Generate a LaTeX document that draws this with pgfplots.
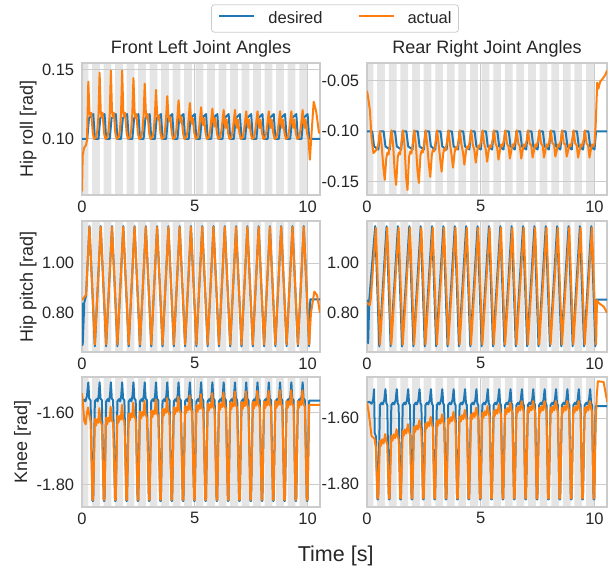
\documentclass[border=0pt]{standalone}
\usepackage{fontspec}
\setmainfont{Liberation Sans}
\usepackage{pgfplots}
\pgfplotsset{compat=1.18}
\usepackage{pgfplotstable}

\definecolor{tabblue}{HTML}{1F77B4}
\definecolor{taborange}{HTML}{FF7F0E}
\definecolor{stripe}{HTML}{E5E5E5}
\definecolor{gridc}{HTML}{CCCCCC}
\definecolor{txt}{HTML}{262626}

\newcommand{\tickfont}{\fontsize{16.5}{19}\selectfont}
\newcommand{\labfont}{\fontsize{18}{21}\selectfont}

% gait phase bands (gray = stance), t in s
\pgfplotstableread{
t s
0 0
0 1
0.28 1
0.28 0
0.45 0
0.45 1
0.79 1
0.79 0
0.96 0
0.96 1
1.30 1
1.30 0
1.47 0
1.47 1
1.81 1
1.81 0
1.98 0
1.98 1
2.32 1
2.32 0
2.49 0
2.49 1
2.83 1
2.83 0
3.00 0
3.00 1
3.34 1
3.34 0
3.51 0
3.51 1
3.85 1
3.85 0
4.02 0
4.02 1
4.36 1
4.36 0
4.53 0
4.53 1
4.87 1
4.87 0
5.04 0
5.04 1
5.38 1
5.38 0
5.55 0
5.55 1
5.89 1
5.89 0
6.06 0
6.06 1
6.40 1
6.40 0
6.57 0
6.57 1
6.91 1
6.91 0
7.08 0
7.08 1
7.42 1
7.42 0
7.59 0
7.59 1
7.93 1
7.93 0
8.10 0
8.10 1
8.44 1
8.44 0
8.61 0
8.61 1
8.95 1
8.95 0
9.12 0
9.12 1
9.46 1
9.46 0
9.63 0
9.63 1
9.97 1
9.97 0
}\stripetab

% #1 = ymin, #2 = ymax of the axis
\newcommand{\stripes}[2]{\addplot[fill=stripe, draw=none, forget plot, on layer=axis background]
  table[x=t, y expr={#1+\thisrow{s}*((#2)-(#1))}] {\stripetab};}

\pgfplotsset{
  jpax/.style={
    scale only axis, width=238pt, height=132pt,
    xmin=0, xmax=10.55, xtick={0,5,10},
    grid=major, major grid style={draw=gridc, line width=1pt},
    axis line style={draw=gridc, line width=1.2pt},
    major tick length=0pt, tick style={draw=none},
    ticklabel style={font=\tickfont, text=txt},
    /pgf/number format/assume math mode=true,
    yticklabel style={/pgf/number format/fixed, /pgf/number format/fixed zerofill, /pgf/number format/precision=2, xshift=-4.3pt},
    xticklabel style={yshift=-2pt},
    every axis y label/.style={at={(axis description cs:-0.2256,0.5)}, rotate=90, anchor=center, font=\labfont, text=txt},
    title style={font=\labfont, text=txt, at={(0.5,1)}, anchor=base, yshift=3.7pt, inner sep=0pt},
    clip mode=individual, set layers,
  },
  des/.style={tabblue, line width=2pt, line join=round},
  act/.style={taborange, line width=2pt, line join=round},
}

\begin{document}
\begin{tikzpicture}

% ---------- Front left, hip roll
\begin{axis}[jpax, at={(82pt,375pt)}, anchor=south west, height=132pt,
  ymin=0.0594, ymax=0.155, ytick={0.10,0.15},
  title={Front Left Joint Angles}, ylabel={Hip roll [rad]},
  legend columns=2,
  legend image code/.code={\draw[#1] (0pt,0.3em) -- (35pt,0.3em);},
  legend style={at={(1.063,1.337)}, anchor=center, draw=gridc, line width=0.8pt, rounded corners=3pt,
    font=\tickfont, text=txt, inner xsep=7pt, inner ysep=7pt, nodes={inner sep=0pt},
    /tikz/every odd column/.append style={column sep=13pt},
    /tikz/every even column/.append style={column sep=35pt}},
]
\stripes{0.0594}{0.155}
\addplot[des] coordinates {(0,0.1)(0.23,0.1)(0.31,0.115)(0.5,0.118)(0.57,0.1)
(0.73,0.1)(0.81,0.115)(1,0.118)(1.07,0.1)(1.23,0.1)(1.31,0.115)(1.5,0.118)(1.57,0.1)
(1.73,0.1)(1.81,0.115)(2,0.118)(2.07,0.1)(2.23,0.1)(2.31,0.115)(2.5,0.118)(2.57,0.1)
(2.73,0.1)(2.81,0.115)(3,0.118)(3.07,0.1)(3.23,0.1)(3.31,0.115)(3.5,0.118)(3.57,0.1)
(3.73,0.1)(3.81,0.115)(4,0.118)(4.07,0.1)(4.23,0.1)(4.31,0.115)(4.5,0.118)(4.57,0.1)
(4.73,0.1)(4.81,0.115)(5,0.118)(5.07,0.1)(5.23,0.1)(5.31,0.115)(5.5,0.118)(5.57,0.1)
(5.73,0.1)(5.81,0.115)(6,0.118)(6.07,0.1)(6.23,0.1)(6.31,0.115)(6.5,0.118)(6.57,0.1)
(6.73,0.1)(6.81,0.115)(7,0.118)(7.07,0.1)(7.23,0.1)(7.31,0.115)(7.5,0.118)(7.57,0.1)
(7.73,0.1)(7.81,0.115)(8,0.118)(8.07,0.1)(8.23,0.1)(8.31,0.115)(8.5,0.118)(8.57,0.1)
(8.73,0.1)(8.81,0.115)(9,0.118)(9.07,0.1)(9.23,0.1)(9.31,0.115)(9.5,0.118)(9.57,0.1)
(9.73,0.1)(9.81,0.115)(10,0.118)(10.07,0.1)(10.55,0.1)};
\addlegendentry{desired}
\addplot[act] coordinates {(0,0.062)(0.03,0.088)(0.09,0.0935)(0.18,0.0957)(0.22,0.099)(0.25,0.12)
(0.28,0.1415)(0.33,0.119)(0.37,0.117)(0.41,0.119)(0.48,0.104)(0.54,0.1)(0.62,0.101)(0.68,0.106)(0.73,0.117)
(0.78,0.148)(0.83,0.12)(0.87,0.116)(0.91,0.119)(0.98,0.104)(1.04,0.1)(1.12,0.101)(1.18,0.106)(1.23,0.118)
(1.28,0.1495)(1.33,0.12)(1.37,0.116)(1.41,0.119)(1.48,0.104)(1.54,0.1)(1.62,0.101)(1.68,0.106)(1.73,0.118)
(1.78,0.1495)(1.83,0.12)(1.87,0.116)(1.91,0.119)(1.98,0.104)(2.04,0.1)(2.12,0.101)(2.18,0.106)(2.23,0.118)
(2.28,0.144)(2.33,0.12)(2.37,0.115)(2.41,0.118)(2.48,0.104)(2.54,0.1)(2.62,0.101)(2.68,0.106)(2.73,0.117)
(2.78,0.14)(2.83,0.119)(2.87,0.115)(2.91,0.118)(2.98,0.104)(3.04,0.1)(3.12,0.101)(3.18,0.106)(3.23,0.117)
(3.28,0.1355)(3.33,0.118)(3.37,0.114)(3.41,0.117)(3.48,0.104)(3.54,0.1)(3.62,0.101)(3.68,0.106)(3.73,0.116)
(3.78,0.131)(3.83,0.117)(3.87,0.113)(3.91,0.116)(3.98,0.104)(4.04,0.1)(4.12,0.101)(4.18,0.106)(4.23,0.116)
(4.28,0.128)(4.33,0.116)(4.37,0.112)(4.41,0.116)(4.48,0.104)(4.54,0.1)(4.62,0.101)(4.68,0.106)(4.73,0.115)
(4.78,0.126)(4.83,0.115)(4.87,0.111)(4.91,0.115)(4.98,0.104)(5.04,0.1)(5.12,0.101)(5.18,0.106)(5.23,0.114)
(5.28,0.123)(5.33,0.113)(5.37,0.11)(5.41,0.115)(5.48,0.104)(5.54,0.1)(5.62,0.101)(5.68,0.106)(5.73,0.114)
(5.78,0.122)(5.83,0.112)(5.87,0.109)(5.91,0.115)(5.98,0.104)(6.04,0.1)(6.12,0.101)(6.18,0.106)(6.23,0.113)
(6.28,0.121)(6.33,0.111)(6.37,0.108)(6.41,0.114)(6.48,0.104)(6.54,0.1)(6.62,0.101)(6.68,0.106)(6.73,0.113)
(6.78,0.121)(6.83,0.111)(6.87,0.108)(6.91,0.114)(6.98,0.104)(7.04,0.1)(7.12,0.101)(7.18,0.106)(7.23,0.113)
(7.28,0.12)(7.33,0.111)(7.37,0.108)(7.41,0.114)(7.48,0.104)(7.54,0.1)(7.62,0.101)(7.68,0.106)(7.73,0.113)
(7.78,0.12)(7.83,0.111)(7.87,0.108)(7.91,0.114)(7.98,0.104)(8.04,0.1)(8.12,0.101)(8.18,0.106)(8.23,0.113)
(8.28,0.12)(8.33,0.111)(8.37,0.108)(8.41,0.114)(8.48,0.104)(8.54,0.1)(8.62,0.101)(8.68,0.106)(8.73,0.113)
(8.78,0.12)(8.83,0.111)(8.87,0.108)(8.91,0.114)(8.98,0.104)(9.04,0.1)(9.12,0.101)(9.18,0.106)(9.23,0.113)
(9.28,0.12)(9.33,0.111)(9.37,0.108)(9.41,0.114)(9.48,0.104)(9.54,0.1)(9.62,0.101)(9.68,0.106)(9.73,0.113)
(9.78,0.121)(9.83,0.111)(9.87,0.108)(9.91,0.114)(9.98,0.104)(10.04,0.1)
(10.1,0.085)(10.18,0.105)(10.27,0.127)(10.38,0.12)(10.5,0.105)(10.55,0.104)};
\addlegendentry{actual}
\end{axis}

% ---------- Rear right, hip roll
\begin{axis}[jpax, at={(367pt,375pt)}, anchor=south west, width=240pt, height=132pt,
  ymin=-0.163, ymax=-0.0325, ytick={-0.15,-0.10,-0.05},
  title={Rear Right Joint Angles}]
\stripes{-0.163}{-0.0325}
\addplot[des] coordinates {(0,-0.1)(0.23,-0.1)(0.31,-0.115)(0.5,-0.118)(0.57,-0.1)
(0.73,-0.1)(0.81,-0.115)(1,-0.118)(1.07,-0.1)(1.23,-0.1)(1.31,-0.115)(1.5,-0.118)(1.57,-0.1)
(1.73,-0.1)(1.81,-0.115)(2,-0.118)(2.07,-0.1)(2.23,-0.1)(2.31,-0.115)(2.5,-0.118)(2.57,-0.1)
(2.73,-0.1)(2.81,-0.115)(3,-0.118)(3.07,-0.1)(3.23,-0.1)(3.31,-0.115)(3.5,-0.118)(3.57,-0.1)
(3.73,-0.1)(3.81,-0.115)(4,-0.118)(4.07,-0.1)(4.23,-0.1)(4.31,-0.115)(4.5,-0.118)(4.57,-0.1)
(4.73,-0.1)(4.81,-0.115)(5,-0.118)(5.07,-0.1)(5.23,-0.1)(5.31,-0.115)(5.5,-0.118)(5.57,-0.1)
(5.73,-0.1)(5.81,-0.115)(6,-0.118)(6.07,-0.1)(6.23,-0.1)(6.31,-0.115)(6.5,-0.118)(6.57,-0.1)
(6.73,-0.1)(6.81,-0.115)(7,-0.118)(7.07,-0.1)(7.23,-0.1)(7.31,-0.115)(7.5,-0.118)(7.57,-0.1)
(7.73,-0.1)(7.81,-0.115)(8,-0.118)(8.07,-0.1)(8.23,-0.1)(8.31,-0.115)(8.5,-0.118)(8.57,-0.1)
(8.73,-0.1)(8.81,-0.115)(9,-0.118)(9.07,-0.1)(9.23,-0.1)(9.31,-0.115)(9.5,-0.118)(9.57,-0.1)
(9.73,-0.1)(9.81,-0.115)(10,-0.118)(10.07,-0.1)(10.55,-0.1)};
\addplot[act] coordinates {(0,-0.06)(0.06,-0.068)(0.13,-0.08)(0.2,-0.107)(0.28,-0.1215)(0.35,-0.12)(0.42,-0.118)(0.5,-0.113)(0.57,-0.1)(0.64,-0.113)(0.72,-0.136)
(0.78,-0.148)(0.85,-0.126)(0.9,-0.121)(0.95,-0.123)(1.02,-0.111)(1.08,-0.099)(1.15,-0.114)(1.22,-0.141)
(1.28,-0.153)(1.35,-0.126)(1.4,-0.121)(1.45,-0.123)(1.52,-0.111)(1.58,-0.099)(1.65,-0.114)(1.72,-0.146)
(1.78,-0.158)(1.85,-0.125)(1.9,-0.12)(1.95,-0.122)(2.02,-0.111)(2.08,-0.099)(2.15,-0.114)(2.22,-0.139)
(2.28,-0.151)(2.35,-0.124)(2.4,-0.119)(2.45,-0.121)(2.52,-0.111)(2.58,-0.099)(2.65,-0.114)(2.72,-0.133)
(2.78,-0.145)(2.85,-0.123)(2.9,-0.118)(2.95,-0.12)(3.02,-0.11)(3.08,-0.099)(3.15,-0.113)(3.22,-0.128)
(3.28,-0.14)(3.35,-0.122)(3.4,-0.117)(3.45,-0.119)(3.52,-0.11)(3.58,-0.099)(3.65,-0.113)(3.72,-0.124)
(3.78,-0.136)(3.85,-0.121)(3.9,-0.116)(3.95,-0.118)(4.02,-0.11)(4.08,-0.099)(4.15,-0.113)(4.22,-0.121)
(4.28,-0.133)(4.35,-0.12)(4.4,-0.115)(4.45,-0.117)(4.52,-0.11)(4.58,-0.099)(4.65,-0.113)(4.72,-0.119)
(4.78,-0.131)(4.85,-0.119)(4.9,-0.114)(4.95,-0.116)(5.02,-0.109)(5.08,-0.099)(5.15,-0.112)(5.22,-0.118)
(5.28,-0.13)(5.35,-0.119)(5.4,-0.114)(5.45,-0.116)(5.52,-0.109)(5.58,-0.099)(5.65,-0.112)(5.72,-0.116)
(5.78,-0.128)(5.85,-0.118)(5.9,-0.113)(5.95,-0.115)(6.02,-0.109)(6.08,-0.099)(6.15,-0.112)(6.22,-0.115)
(6.28,-0.127)(6.35,-0.118)(6.4,-0.113)(6.45,-0.115)(6.52,-0.109)(6.58,-0.099)(6.65,-0.112)(6.72,-0.115)
(6.78,-0.127)(6.85,-0.118)(6.9,-0.113)(6.95,-0.115)(7.02,-0.109)(7.08,-0.099)(7.15,-0.112)(7.22,-0.114)
(7.28,-0.126)(7.35,-0.118)(7.4,-0.113)(7.45,-0.115)(7.52,-0.109)(7.58,-0.099)(7.65,-0.112)(7.72,-0.114)
(7.78,-0.126)(7.85,-0.118)(7.9,-0.113)(7.95,-0.115)(8.02,-0.109)(8.08,-0.099)(8.15,-0.112)(8.22,-0.113)
(8.28,-0.125)(8.35,-0.118)(8.4,-0.113)(8.45,-0.115)(8.52,-0.109)(8.58,-0.099)(8.65,-0.112)(8.72,-0.113)
(8.78,-0.125)(8.85,-0.118)(8.9,-0.113)(8.95,-0.115)(9.02,-0.109)(9.08,-0.099)(9.15,-0.112)(9.22,-0.114)
(9.28,-0.126)(9.35,-0.118)(9.4,-0.113)(9.45,-0.115)(9.52,-0.109)(9.58,-0.099)(9.65,-0.112)(9.72,-0.114)
(9.78,-0.126)(9.85,-0.117)(9.9,-0.113)(9.95,-0.115)(10,-0.112)(10.05,-0.095)(10.12,-0.052)(10.17,-0.058)(10.25,-0.051)(10.36,-0.048)(10.48,-0.044)(10.55,-0.04)};
\end{axis}

% ---------- Front left, hip pitch
\begin{axis}[jpax, at={(82pt,218pt)}, anchor=south west, height=131pt,
  ymin=0.642, ymax=1.169, ytick={0.8,1.0}, ylabel={Hip pitch [rad]}]
\stripes{0.642}{1.169}
\addplot[des] coordinates {(0,0.84)(0.03,0.67)(0.1,0.84)(0.18,0.87)
(0.33,1.148)(0.57,0.665)(0.83,1.148)(1.07,0.665)(1.33,1.148)(1.57,0.665)(1.83,1.148)(2.07,0.665)
(2.33,1.148)(2.57,0.665)(2.83,1.148)(3.07,0.665)(3.33,1.148)(3.57,0.665)(3.83,1.148)(4.07,0.665)
(4.33,1.148)(4.57,0.665)(4.83,1.148)(5.07,0.665)(5.33,1.148)(5.57,0.665)(5.83,1.148)(6.07,0.665)
(6.33,1.148)(6.57,0.665)(6.83,1.148)(7.07,0.665)(7.33,1.148)(7.57,0.665)(7.83,1.148)(8.07,0.665)
(8.33,1.148)(8.57,0.665)(8.83,1.148)(9.07,0.665)(9.33,1.148)(9.57,0.665)(9.83,1.148)(10.07,0.665)
(10.12,0.854)(10.55,0.854)};
\addplot[act] coordinates {(0,0.851)(0.18,0.872)
(0.33,1.145)(0.57,0.672)(0.83,1.145)(1.07,0.672)(1.33,1.145)(1.57,0.672)(1.83,1.145)(2.07,0.672)
(2.33,1.145)(2.57,0.672)(2.83,1.145)(3.07,0.672)(3.33,1.145)(3.57,0.672)(3.83,1.145)(4.07,0.672)
(4.33,1.145)(4.57,0.672)(4.83,1.145)(5.07,0.672)(5.33,1.145)(5.57,0.672)(5.83,1.145)(6.07,0.672)
(6.33,1.145)(6.57,0.672)(6.83,1.145)(7.07,0.672)(7.33,1.145)(7.57,0.672)(7.83,1.145)(8.07,0.672)
(8.33,1.145)(8.57,0.672)(8.83,1.145)(9.07,0.672)(9.33,1.145)(9.57,0.672)(9.83,1.145)(10.07,0.672)
(10.15,0.8)(10.3,0.885)(10.42,0.87)(10.55,0.8)};
\end{axis}

% ---------- Rear right, hip pitch
\begin{axis}[jpax, at={(367pt,218pt)}, anchor=south west, width=240pt, height=131pt,
  ymin=0.642, ymax=1.169, ytick={0.8,1.0}]
\stripes{0.642}{1.169}
\addplot[des] coordinates {(0,0.853)(0.05,0.677)(0.1,0.853)
(0.36,1.148)(0.54,0.665)(0.86,1.148)(1.04,0.665)(1.36,1.148)(1.54,0.665)(1.86,1.148)(2.04,0.665)
(2.36,1.148)(2.54,0.665)(2.86,1.148)(3.04,0.665)(3.36,1.148)(3.54,0.665)(3.86,1.148)(4.04,0.665)
(4.36,1.148)(4.54,0.665)(4.86,1.148)(5.04,0.665)(5.36,1.148)(5.54,0.665)(5.86,1.148)(6.04,0.665)
(6.36,1.148)(6.54,0.665)(6.86,1.148)(7.04,0.665)(7.36,1.148)(7.54,0.665)(7.86,1.148)(8.04,0.665)
(8.36,1.148)(8.54,0.665)(8.86,1.148)(9.04,0.665)(9.36,1.148)(9.54,0.665)(9.86,1.148)(10.04,0.665)
(10.07,0.853)(10.55,0.853)};
\addplot[act] coordinates {(0,0.84)(0.12,0.83)(0.16,0.85)
(0.39,1.142)(0.57,0.672)(0.89,1.142)(1.07,0.672)(1.39,1.142)(1.57,0.672)(1.89,1.142)(2.07,0.672)
(2.39,1.142)(2.57,0.672)(2.89,1.142)(3.07,0.672)(3.39,1.142)(3.57,0.672)(3.89,1.142)(4.07,0.672)
(4.39,1.142)(4.57,0.672)(4.89,1.142)(5.07,0.672)(5.39,1.142)(5.57,0.672)(5.89,1.142)(6.07,0.672)
(6.39,1.142)(6.57,0.672)(6.89,1.142)(7.07,0.672)(7.39,1.142)(7.57,0.672)(7.89,1.142)(8.07,0.672)
(8.39,1.142)(8.57,0.672)(8.89,1.142)(9.07,0.672)(9.39,1.142)(9.57,0.672)(9.89,1.142)(10.07,0.672)
(10.11,0.85)(10.2,0.838)(10.4,0.825)(10.55,0.8)};
\end{axis}

% ---------- Front left, knee
\begin{axis}[jpax, at={(82pt,63pt)}, anchor=south west, height=130pt,
  ymin=-1.863, ymax=-1.50, ytick={-1.8,-1.6}, ylabel={Knee [rad]},
  every axis y label/.append style={at={(axis description cs:-0.25,0.5)}}]
\stripes{-1.863}{-1.50}
\addplot[des] coordinates {(0,-1.57)(0.08,-1.563)(0.15,-1.568)(0.22,-1.553)
(0.28,-1.515)(0.32,-1.56)(0.38,-1.565)(0.465,-1.846)(0.495,-1.846)(0.57,-1.568)(0.64,-1.562)(0.69,-1.568)(0.74,-1.552)
(0.78,-1.515)(0.82,-1.56)(0.88,-1.565)(0.965,-1.846)(0.995,-1.846)(1.07,-1.568)(1.14,-1.562)(1.19,-1.568)(1.24,-1.552)
(1.28,-1.515)(1.32,-1.56)(1.38,-1.565)(1.465,-1.846)(1.495,-1.846)(1.57,-1.568)(1.64,-1.562)(1.69,-1.568)(1.74,-1.552)
(1.78,-1.515)(1.82,-1.56)(1.88,-1.565)(1.965,-1.846)(1.995,-1.846)(2.07,-1.568)(2.14,-1.562)(2.19,-1.568)(2.24,-1.552)
(2.28,-1.515)(2.32,-1.56)(2.38,-1.565)(2.465,-1.846)(2.495,-1.846)(2.57,-1.568)(2.64,-1.562)(2.69,-1.568)(2.74,-1.552)
(2.78,-1.515)(2.82,-1.56)(2.88,-1.565)(2.965,-1.846)(2.995,-1.846)(3.07,-1.568)(3.14,-1.562)(3.19,-1.568)(3.24,-1.552)
(3.28,-1.515)(3.32,-1.56)(3.38,-1.565)(3.465,-1.846)(3.495,-1.846)(3.57,-1.568)(3.64,-1.562)(3.69,-1.568)(3.74,-1.552)
(3.78,-1.515)(3.82,-1.56)(3.88,-1.565)(3.965,-1.846)(3.995,-1.846)(4.07,-1.568)(4.14,-1.562)(4.19,-1.568)(4.24,-1.552)
(4.28,-1.515)(4.32,-1.56)(4.38,-1.565)(4.465,-1.846)(4.495,-1.846)(4.57,-1.568)(4.64,-1.562)(4.69,-1.568)(4.74,-1.552)
(4.78,-1.515)(4.82,-1.56)(4.88,-1.565)(4.965,-1.846)(4.995,-1.846)(5.07,-1.568)(5.14,-1.562)(5.19,-1.568)(5.24,-1.552)
(5.28,-1.515)(5.32,-1.56)(5.38,-1.565)(5.465,-1.846)(5.495,-1.846)(5.57,-1.568)(5.64,-1.562)(5.69,-1.568)(5.74,-1.552)
(5.78,-1.515)(5.82,-1.56)(5.88,-1.565)(5.965,-1.846)(5.995,-1.846)(6.07,-1.568)(6.14,-1.562)(6.19,-1.568)(6.24,-1.552)
(6.28,-1.515)(6.32,-1.56)(6.38,-1.565)(6.465,-1.846)(6.495,-1.846)(6.57,-1.568)(6.64,-1.562)(6.69,-1.568)(6.74,-1.552)
(6.78,-1.515)(6.82,-1.56)(6.88,-1.565)(6.965,-1.846)(6.995,-1.846)(7.07,-1.568)(7.14,-1.562)(7.19,-1.568)(7.24,-1.552)
(7.28,-1.515)(7.32,-1.56)(7.38,-1.565)(7.465,-1.846)(7.495,-1.846)(7.57,-1.568)(7.64,-1.562)(7.69,-1.568)(7.74,-1.552)
(7.78,-1.515)(7.82,-1.56)(7.88,-1.565)(7.965,-1.846)(7.995,-1.846)(8.07,-1.568)(8.14,-1.562)(8.19,-1.568)(8.24,-1.552)
(8.28,-1.515)(8.32,-1.56)(8.38,-1.565)(8.465,-1.846)(8.495,-1.846)(8.57,-1.568)(8.64,-1.562)(8.69,-1.568)(8.74,-1.552)
(8.78,-1.515)(8.82,-1.56)(8.88,-1.565)(8.965,-1.846)(8.995,-1.846)(9.07,-1.568)(9.14,-1.562)(9.19,-1.568)(9.24,-1.552)
(9.28,-1.515)(9.32,-1.56)(9.38,-1.565)(9.465,-1.846)(9.495,-1.846)(9.57,-1.568)(9.64,-1.562)(9.69,-1.568)(9.74,-1.552)
(9.78,-1.515)(9.82,-1.56)(9.88,-1.565)(9.965,-1.846)(9.995,-1.846)(10.07,-1.566)(10.55,-1.566)};
\addplot[act] coordinates {(0,-1.545)(0.05,-1.58)(0.1,-1.623)(0.16,-1.632)(0.22,-1.6)(0.27,-1.585)(0.32,-1.605)(0.38,-1.625)(0.465,-1.843)(0.495,-1.843)
(0.57,-1.617)(0.62,-1.636)(0.67,-1.618)(0.72,-1.628)(0.77,-1.587)(0.82,-1.624)(0.88,-1.634)(0.965,-1.843)(0.995,-1.843)
(1.07,-1.613)(1.12,-1.632)(1.17,-1.614)(1.22,-1.624)(1.27,-1.583)(1.32,-1.62)(1.38,-1.63)(1.465,-1.843)(1.495,-1.843)
(1.57,-1.608)(1.62,-1.627)(1.67,-1.609)(1.72,-1.619)(1.77,-1.578)(1.82,-1.615)(1.88,-1.625)(1.965,-1.843)(1.995,-1.843)
(2.07,-1.602)(2.12,-1.621)(2.17,-1.603)(2.22,-1.613)(2.27,-1.572)(2.32,-1.609)(2.38,-1.619)(2.465,-1.843)(2.495,-1.843)
(2.57,-1.597)(2.62,-1.616)(2.67,-1.598)(2.72,-1.608)(2.77,-1.567)(2.82,-1.604)(2.88,-1.614)(2.965,-1.843)(2.995,-1.843)
(3.07,-1.593)(3.12,-1.612)(3.17,-1.594)(3.22,-1.604)(3.27,-1.563)(3.32,-1.6)(3.38,-1.61)(3.465,-1.843)(3.495,-1.843)
(3.57,-1.589)(3.62,-1.608)(3.67,-1.59)(3.72,-1.6)(3.77,-1.559)(3.82,-1.596)(3.88,-1.606)(3.965,-1.843)(3.995,-1.843)
(4.07,-1.585)(4.12,-1.604)(4.17,-1.586)(4.22,-1.596)(4.27,-1.555)(4.32,-1.592)(4.38,-1.602)(4.465,-1.843)(4.495,-1.843)
(4.57,-1.581)(4.62,-1.6)(4.67,-1.582)(4.72,-1.592)(4.77,-1.551)(4.82,-1.588)(4.88,-1.598)(4.965,-1.843)(4.995,-1.843)
(5.07,-1.578)(5.12,-1.597)(5.17,-1.579)(5.22,-1.589)(5.27,-1.548)(5.32,-1.585)(5.38,-1.595)(5.465,-1.843)(5.495,-1.843)
(5.57,-1.575)(5.62,-1.594)(5.67,-1.576)(5.72,-1.586)(5.77,-1.545)(5.82,-1.582)(5.88,-1.592)(5.965,-1.843)(5.995,-1.843)
(6.07,-1.573)(6.12,-1.592)(6.17,-1.574)(6.22,-1.584)(6.27,-1.543)(6.32,-1.58)(6.38,-1.59)(6.465,-1.843)(6.495,-1.843)
(6.57,-1.571)(6.62,-1.59)(6.67,-1.572)(6.72,-1.582)(6.77,-1.541)(6.82,-1.578)(6.88,-1.588)(6.965,-1.843)(6.995,-1.843)
(7.07,-1.57)(7.12,-1.589)(7.17,-1.571)(7.22,-1.581)(7.27,-1.54)(7.32,-1.577)(7.38,-1.587)(7.465,-1.843)(7.495,-1.843)
(7.57,-1.569)(7.62,-1.588)(7.67,-1.57)(7.72,-1.58)(7.77,-1.539)(7.82,-1.576)(7.88,-1.586)(7.965,-1.843)(7.995,-1.843)
(8.07,-1.568)(8.12,-1.587)(8.17,-1.569)(8.22,-1.579)(8.27,-1.538)(8.32,-1.575)(8.38,-1.585)(8.465,-1.843)(8.495,-1.843)
(8.57,-1.567)(8.62,-1.586)(8.67,-1.568)(8.72,-1.578)(8.77,-1.537)(8.82,-1.574)(8.88,-1.584)(8.965,-1.843)(8.995,-1.843)
(9.07,-1.567)(9.12,-1.586)(9.17,-1.568)(9.22,-1.578)(9.27,-1.537)(9.32,-1.574)(9.38,-1.584)(9.465,-1.843)(9.495,-1.843)
(9.57,-1.567)(9.62,-1.586)(9.67,-1.568)(9.72,-1.578)(9.77,-1.537)(9.82,-1.574)(9.88,-1.584)(9.965,-1.843)(9.995,-1.843)
(10.07,-1.578)(10.55,-1.578)};
\end{axis}

% ---------- Rear right, knee
\begin{axis}[jpax, at={(367pt,63pt)}, anchor=south west, width=240pt, height=130pt,
  ymin=-1.869, ymax=-1.475, ytick={-1.8,-1.6}]
\stripes{-1.869}{-1.475}
\addplot[des] coordinates {(0,-1.553)(0.1,-1.55)(0.2,-1.556)(0.27,-1.545)
(0.31,-1.512)(0.34,-1.645)(0.39,-1.655)(0.46,-1.846)(0.49,-1.846)(0.57,-1.56)(0.64,-1.553)(0.69,-1.558)(0.76,-1.545)
(0.81,-1.512)(0.85,-1.555)(0.89,-1.56)(0.96,-1.846)(0.99,-1.846)(1.07,-1.56)(1.14,-1.553)(1.19,-1.558)(1.26,-1.545)
(1.31,-1.512)(1.35,-1.555)(1.39,-1.56)(1.46,-1.846)(1.49,-1.846)(1.57,-1.56)(1.64,-1.553)(1.69,-1.558)(1.76,-1.545)
(1.81,-1.512)(1.85,-1.555)(1.89,-1.56)(1.96,-1.846)(1.99,-1.846)(2.07,-1.56)(2.14,-1.553)(2.19,-1.558)(2.26,-1.545)
(2.31,-1.512)(2.35,-1.555)(2.39,-1.56)(2.46,-1.846)(2.49,-1.846)(2.57,-1.56)(2.64,-1.553)(2.69,-1.558)(2.76,-1.545)
(2.81,-1.512)(2.85,-1.555)(2.89,-1.56)(2.96,-1.846)(2.99,-1.846)(3.07,-1.56)(3.14,-1.553)(3.19,-1.558)(3.26,-1.545)
(3.31,-1.512)(3.35,-1.555)(3.39,-1.56)(3.46,-1.846)(3.49,-1.846)(3.57,-1.56)(3.64,-1.553)(3.69,-1.558)(3.76,-1.545)
(3.81,-1.512)(3.85,-1.555)(3.89,-1.56)(3.96,-1.846)(3.99,-1.846)(4.07,-1.56)(4.14,-1.553)(4.19,-1.558)(4.26,-1.545)
(4.31,-1.512)(4.35,-1.555)(4.39,-1.56)(4.46,-1.846)(4.49,-1.846)(4.57,-1.56)(4.64,-1.553)(4.69,-1.558)(4.76,-1.545)
(4.81,-1.512)(4.85,-1.555)(4.89,-1.56)(4.96,-1.846)(4.99,-1.846)(5.07,-1.56)(5.14,-1.553)(5.19,-1.558)(5.26,-1.545)
(5.31,-1.512)(5.35,-1.555)(5.39,-1.56)(5.46,-1.846)(5.49,-1.846)(5.57,-1.56)(5.64,-1.553)(5.69,-1.558)(5.76,-1.545)
(5.81,-1.512)(5.85,-1.555)(5.89,-1.56)(5.96,-1.846)(5.99,-1.846)(6.07,-1.56)(6.14,-1.553)(6.19,-1.558)(6.26,-1.545)
(6.31,-1.512)(6.35,-1.555)(6.39,-1.56)(6.46,-1.846)(6.49,-1.846)(6.57,-1.56)(6.64,-1.553)(6.69,-1.558)(6.76,-1.545)
(6.81,-1.512)(6.85,-1.555)(6.89,-1.56)(6.96,-1.846)(6.99,-1.846)(7.07,-1.56)(7.14,-1.553)(7.19,-1.558)(7.26,-1.545)
(7.31,-1.512)(7.35,-1.555)(7.39,-1.56)(7.46,-1.846)(7.49,-1.846)(7.57,-1.56)(7.64,-1.553)(7.69,-1.558)(7.76,-1.545)
(7.81,-1.512)(7.85,-1.555)(7.89,-1.56)(7.96,-1.846)(7.99,-1.846)(8.07,-1.56)(8.14,-1.553)(8.19,-1.558)(8.26,-1.545)
(8.31,-1.512)(8.35,-1.555)(8.39,-1.56)(8.46,-1.846)(8.49,-1.846)(8.57,-1.56)(8.64,-1.553)(8.69,-1.558)(8.76,-1.545)
(8.81,-1.512)(8.85,-1.555)(8.89,-1.56)(8.96,-1.846)(8.99,-1.846)(9.07,-1.56)(9.14,-1.553)(9.19,-1.558)(9.26,-1.545)
(9.31,-1.512)(9.35,-1.555)(9.39,-1.56)(9.46,-1.846)(9.49,-1.846)(9.57,-1.56)(9.64,-1.553)(9.69,-1.558)(9.76,-1.545)
(9.81,-1.512)(9.85,-1.555)(9.89,-1.56)(9.96,-1.846)(9.99,-1.846)(10.05,-1.563)(10.55,-1.563)};
\addplot[act] coordinates {(0,-1.552)(0.07,-1.58)(0.13,-1.613)(0.2,-1.654)(0.27,-1.658)(0.33,-1.662)(0.39,-1.69)(0.46,-1.843)(0.49,-1.843)
(0.57,-1.668)(0.62,-1.683)(0.67,-1.664)(0.73,-1.676)(0.8,-1.648)(0.85,-1.67)(0.89,-1.68)(0.96,-1.843)(0.99,-1.843)
(1.07,-1.653)(1.12,-1.668)(1.17,-1.649)(1.23,-1.661)(1.3,-1.633)(1.35,-1.655)(1.39,-1.665)(1.46,-1.843)(1.49,-1.843)
(1.57,-1.638)(1.62,-1.653)(1.67,-1.634)(1.73,-1.646)(1.8,-1.618)(1.85,-1.64)(1.89,-1.65)(1.96,-1.843)(1.99,-1.843)
(2.07,-1.626)(2.12,-1.641)(2.17,-1.622)(2.23,-1.634)(2.3,-1.606)(2.35,-1.628)(2.39,-1.638)(2.46,-1.843)(2.49,-1.843)
(2.57,-1.616)(2.62,-1.631)(2.67,-1.612)(2.73,-1.624)(2.8,-1.596)(2.85,-1.618)(2.89,-1.628)(2.96,-1.843)(2.99,-1.843)
(3.07,-1.608)(3.12,-1.623)(3.17,-1.604)(3.23,-1.616)(3.3,-1.588)(3.35,-1.61)(3.39,-1.62)(3.46,-1.843)(3.49,-1.843)
(3.57,-1.601)(3.62,-1.616)(3.67,-1.597)(3.73,-1.609)(3.8,-1.581)(3.85,-1.603)(3.89,-1.613)(3.96,-1.843)(3.99,-1.843)
(4.07,-1.595)(4.12,-1.61)(4.17,-1.591)(4.23,-1.603)(4.3,-1.575)(4.35,-1.597)(4.39,-1.607)(4.46,-1.843)(4.49,-1.843)
(4.57,-1.588)(4.62,-1.603)(4.67,-1.584)(4.73,-1.596)(4.8,-1.568)(4.85,-1.59)(4.89,-1.6)(4.96,-1.843)(4.99,-1.843)
(5.07,-1.583)(5.12,-1.598)(5.17,-1.579)(5.23,-1.591)(5.3,-1.563)(5.35,-1.585)(5.39,-1.595)(5.46,-1.843)(5.49,-1.843)
(5.57,-1.578)(5.62,-1.593)(5.67,-1.574)(5.73,-1.586)(5.8,-1.558)(5.85,-1.58)(5.89,-1.59)(5.96,-1.843)(5.99,-1.843)
(6.07,-1.573)(6.12,-1.588)(6.17,-1.569)(6.23,-1.581)(6.3,-1.553)(6.35,-1.575)(6.39,-1.585)(6.46,-1.843)(6.49,-1.843)
(6.57,-1.568)(6.62,-1.583)(6.67,-1.564)(6.73,-1.576)(6.8,-1.548)(6.85,-1.57)(6.89,-1.58)(6.96,-1.843)(6.99,-1.843)
(7.07,-1.568)(7.12,-1.583)(7.17,-1.564)(7.23,-1.576)(7.3,-1.548)(7.35,-1.57)(7.39,-1.58)(7.46,-1.843)(7.49,-1.843)
(7.57,-1.568)(7.62,-1.583)(7.67,-1.564)(7.73,-1.576)(7.8,-1.548)(7.85,-1.57)(7.89,-1.58)(7.96,-1.843)(7.99,-1.843)
(8.07,-1.568)(8.12,-1.583)(8.17,-1.564)(8.23,-1.576)(8.3,-1.548)(8.35,-1.57)(8.39,-1.58)(8.46,-1.843)(8.49,-1.843)
(8.57,-1.568)(8.62,-1.583)(8.67,-1.564)(8.73,-1.576)(8.8,-1.548)(8.85,-1.57)(8.89,-1.58)(8.96,-1.843)(8.99,-1.843)
(9.07,-1.568)(9.12,-1.583)(9.17,-1.564)(9.23,-1.576)(9.3,-1.548)(9.35,-1.57)(9.39,-1.58)(9.46,-1.843)(9.49,-1.843)
(9.57,-1.568)(9.62,-1.583)(9.67,-1.564)(9.73,-1.576)(9.8,-1.548)(9.85,-1.57)(9.89,-1.58)(9.96,-1.843)(9.99,-1.843)
(10.05,-1.62)(10.1,-1.53)(10.15,-1.488)(10.4,-1.49)(10.56,-1.55)};
\end{axis}

\node[font=\fontsize{21.5}{25}\selectfont, text=txt, anchor=base] at (335.7pt,9pt) {Time [s]};
\path (0pt,0pt) rectangle (610pt,570pt);
\end{tikzpicture}
\end{document}
